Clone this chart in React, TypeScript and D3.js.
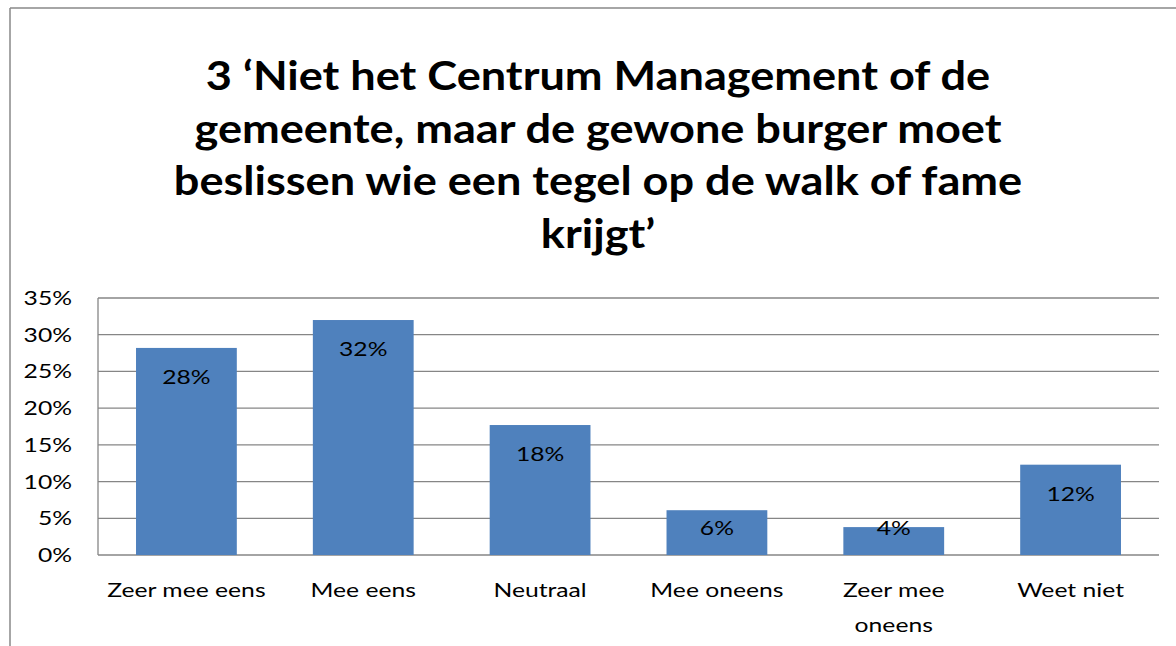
import React from "react";
import * as d3 from "d3";

const categories = ["Zeer mee eens", "Mee eens", "Neutraal", "Mee oneens", "Zeer mee oneens", "Weet niet"];
const categoryLines = [["Zeer mee eens"], ["Mee eens"], ["Neutraal"], ["Mee oneens"], ["Zeer mee", "oneens"], ["Weet niet"]];
const values = [0.282, 0.32, 0.177, 0.061, 0.038, 0.123];
const yTicks = [0, 0.05, 0.1, 0.15, 0.2, 0.25, 0.3, 0.35];
const titleLines = [
  "3 \u2018Niet het Centrum Management of de",
  "gemeente, maar de gewone burger moet",
  "beslissen wie een tegel op de walk of fame",
  "krijgt\u2019",
];

const W = 1176;
const H = 646;
const FONT = "Lato, 'Open Sans', sans-serif";
const SX = 1.3; // horizontal stretch of small text
const TSX = 1.1; // horizontal stretch of title

type TProps = { x: number; y: number; sx: number; anchor: string; size: number; bold?: boolean; children: React.ReactNode };
function SText({ x, y, sx, anchor, size, bold, children }: TProps) {
  return (
    <text
      transform={`translate(${x},${y}) scale(${sx},1)`}
      textAnchor={anchor}
      fontFamily={FONT}
      fontWeight={bold ? "bold" : "normal"}
      fontSize={size}
      fill="#000"
    >
      {children}
    </text>
  );
}

export default function App() {
  const left = 98;
  const right = 1159;
  const top = 298;
  const bottom = 555;
  const x = d3.scaleBand<string>().domain(categories).range([left, right]).paddingInner(0.43).paddingOuter(0.215);
  const y = d3.scaleLinear().domain([0, 0.35]).range([bottom, top]);
  const pct = d3.format(".0%");

  return (
    <svg width={W} height={H} style={{ position: "absolute", left: 0, top: 0, background: "#fff" }}>
      <rect x={0} y={0} width={W} height={H} fill="#fff" />
      <line x1={10} y1={8} x2={W} y2={8} stroke="#888" strokeWidth={1.5} />
      <line x1={10} y1={8} x2={10} y2={H} stroke="#888" strokeWidth={1.5} />
      {titleLines.map((t, i) => (
        <SText key={i} x={598} y={90 + i * 52.5} sx={TSX} anchor="middle" size={41} bold>
          {t}
        </SText>
      ))}
      {yTicks.map((t) => (
        <line key={t} x1={left} x2={right} y1={y(t)} y2={y(t)} stroke="#868686" strokeWidth={1.3} />
      ))}
      <line x1={left} x2={left} y1={top} y2={bottom} stroke="#868686" strokeWidth={1.3} />
      {yTicks.map((t) => (
        <SText key={t} x={72} y={y(t) + 7} sx={SX} anchor="end" size={19}>
          {pct(t)}
        </SText>
      ))}
      {categories.map((c, i) => (
        <rect key={c} x={x(c)} y={y(values[i])} width={x.bandwidth()} height={bottom - y(values[i])} fill="#4F81BD" />
      ))}
      {categories.map((c, i) => {
        const cy = Math.min(y(values[i]) + 29, bottom - 27);
        return (
          <SText key={c} x={(x(c) as number) + x.bandwidth() / 2} y={cy + 7} sx={SX} anchor="middle" size={19}>
            {pct(values[i])}
          </SText>
        );
      })}
      {categories.map((c, i) =>
        categoryLines[i].map((l, j) => (
          <SText key={c + j} x={(x(c) as number) + x.bandwidth() / 2} y={597 + j * 35} sx={SX} anchor="middle" size={19}>
            {l}
          </SText>
        ))
      )}
    </svg>
  );
}
